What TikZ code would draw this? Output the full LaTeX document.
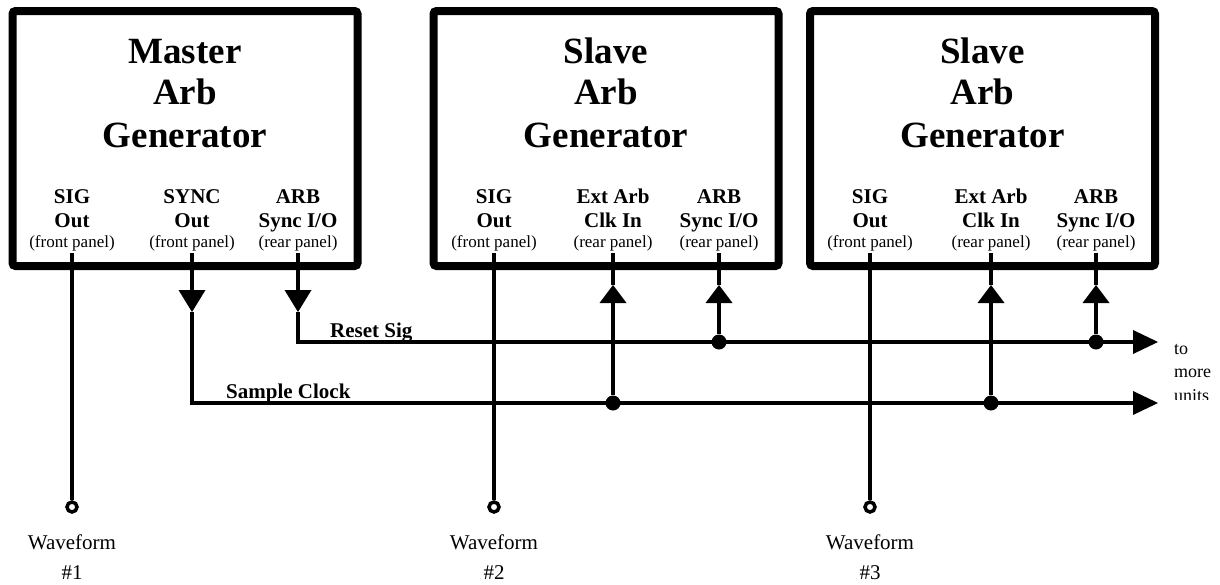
\documentclass[tikz,border=0pt]{standalone}
\usepackage{fontspec}
\setmainfont{Liberation Serif}
\usetikzlibrary{arrows.meta}
\begin{document}
\begin{tikzpicture}[x=1pt,y=-1pt,
  unit/.style={draw, line width=8pt, rounded corners=3pt, minimum width=345pt, minimum height=255pt, inner sep=0pt},
  ttl/.style={font=\fontsize{37}{42}\selectfont\bfseries, anchor=base, inner sep=0pt},
  port/.style={font=\fontsize{21}{24}\selectfont\bfseries, anchor=base, inner sep=0pt},
  panel/.style={font=\fontsize{17}{20}\selectfont, anchor=base, inner sep=0pt},
  sig/.style={font=\fontsize{21}{24}\selectfont\bfseries, anchor=base west, inner sep=0pt},
  wave/.style={font=\fontsize{21}{25}\selectfont, anchor=base, inner sep=0pt},
  side/.style={font=\fontsize{18}{22}\selectfont, anchor=base west, inner sep=0pt},
  wire/.style={line width=4.5pt},
  jdot/.style={circle, fill, inner sep=0pt, minimum size=15pt},
  term/.style={circle, draw, line width=3.5pt, inner sep=0pt, minimum size=10pt},
  downtip/.style={-{Triangle[length=22pt,width=27pt,line width=0pt]}},
  uptip/.style={-{Triangle[length=18pt,width=27pt,line width=0pt]}},
  outtip/.style={-{Triangle[length=25pt,width=24pt,line width=0pt]}}
]
\useasboundingbox (0,0) rectangle (1220,584);

% units
\node[unit] (m)  at (185,138.5) {};
\node[unit] (s1) at (606,138.5) {};
\node[unit] (s2) at (982.5,138.5) {};

% titles
\node[ttl] (mt1) at (185,63) {Master};
\node[ttl] (mt2) at (185,104) {Arb};
\node[ttl] (mt3) at (185,147) {Generator};
\node[ttl] (at1) at (606,63) {Slave};
\node[ttl] (at2) at (606,104) {Arb};
\node[ttl] (at3) at (606,147) {Generator};
\node[ttl] (bt1) at (982.5,63) {Slave};
\node[ttl] (bt2) at (982.5,104) {Arb};
\node[ttl] (bt3) at (982.5,147) {Generator};

% master ports
\node[port] (mp1a) at (72,203) {SIG};
\node[port] (mp1b) at (72,227) {Out};
\node[panel] (mp1c) at (72,247) {(front panel)};
\node[port] (mp2a) at (192,203) {SYNC};
\node[port] (mp2b) at (192,227) {Out};
\node[panel] (mp2c) at (192,247) {(front panel)};
\node[port] (mp3a) at (298,203) {ARB};
\node[port] (mp3b) at (298,227) {Sync I/O};
\node[panel] (mp3c) at (298,247) {(rear panel)};

% slave 1 ports
\node[port] (ap1a) at (494,203) {SIG};
\node[port] (ap1b) at (494,227) {Out};
\node[panel] (ap1c) at (494,247) {(front panel)};
\node[port] (ap2a) at (613,203) {Ext Arb};
\node[port] (ap2b) at (613,227) {Clk In};
\node[panel] (ap2c) at (613,247) {(rear panel)};
\node[port] (ap3a) at (719,203) {ARB};
\node[port] (ap3b) at (719,227) {Sync I/O};
\node[panel] (ap3c) at (719,247) {(rear panel)};

% slave 2 ports
\node[port] (bp1a) at (870,203) {SIG};
\node[port] (bp1b) at (870,227) {Out};
\node[panel] (bp1c) at (870,247) {(front panel)};
\node[port] (bp2a) at (991,203) {Ext Arb};
\node[port] (bp2b) at (991,227) {Clk In};
\node[panel] (bp2c) at (991,247) {(rear panel)};
\node[port] (bp3a) at (1096,203) {ARB};
\node[port] (bp3b) at (1096,227) {Sync I/O};
\node[panel] (bp3c) at (1096,247) {(rear panel)};

% port stub coordinates
\coordinate (msig)  at (72,253);
\coordinate (msync) at (192,253);
\coordinate (marb)  at (298,253);
\coordinate (asig)  at (494,253);
\coordinate (aclk)  at (613,253);
\coordinate (aarb)  at (719,253);
\coordinate (bsig)  at (870,253);
\coordinate (bclk)  at (991,253);
\coordinate (barb)  at (1096,253);

% arrow tip points
\coordinate (msynct) at (192,312);
\coordinate (marbt)  at (298,312);
\coordinate (aclkt)  at (613,285);
\coordinate (aarbt)  at (719,285);
\coordinate (bclkt)  at (991,285);
\coordinate (barbt)  at (1096,285);

% bus corners and ends
\coordinate (rscorner) at (298,342);
\coordinate (sccorner) at (192,403);
\coordinate (rsend) at (1158,342);
\coordinate (scend) at (1158,403);

% junctions
\node[jdot] (ja) at (719,342) {};
\node[jdot] (jb) at (1096,342) {};
\node[jdot] (jc) at (613,403) {};
\node[jdot] (jd) at (991,403) {};

% terminals
\node[term] (w1) at (72,507) {};
\node[term] (w2) at (494,507) {};
\node[term] (w3) at (870,507) {};

% SIG outputs
\draw[wire] (msig) -- (w1.north);
\draw[wire] (asig) -- (w2.north);
\draw[wire] (bsig) -- (w3.north);

% master outputs
\draw[wire, downtip] (msync) -- (msynct);
\draw[wire, downtip] (marb) -- (marbt);
\draw[wire, line join=miter, outtip] (msynct) -- (sccorner) -- (scend);
\draw[wire, line join=miter, outtip] (marbt) -- (rscorner) -- (rsend);

% slave inputs
\draw[wire] (aclkt) -- (aclk);
\draw[wire] (aarbt) -- (aarb);
\draw[wire] (bclkt) -- (bclk);
\draw[wire] (barbt) -- (barb);
\draw[wire, uptip] (jc) -- (aclkt);
\draw[wire, uptip] (ja) -- (aarbt);
\draw[wire, uptip] (jd) -- (bclkt);
\draw[wire, uptip] (jb) -- (barbt);

% bus labels
\node[sig] (rslbl) at (330,337) {Reset Sig};
\node[sig] (sclbl) at (226,398) {Sample Clock};

% waveform labels
\node[wave] (wl1a) at (72,549) {Waveform};
\node[wave] (wl1b) at (72,579) {\#1};
\node[wave] (wl2a) at (494,549) {Waveform};
\node[wave] (wl2b) at (494,579) {\#2};
\node[wave] (wl3a) at (870,549) {Waveform};
\node[wave] (wl3b) at (870,579) {\#3};

% to more units
\node[side] (tm1) at (1174,354) {to};
\node[side] (tm2) at (1174,377) {more};
\begin{scope}
  \clip (1165,380) rectangle (1220,399);
  \node[side] (tm3) at (1174,401) {units};
\end{scope}
\end{tikzpicture}
\end{document}
